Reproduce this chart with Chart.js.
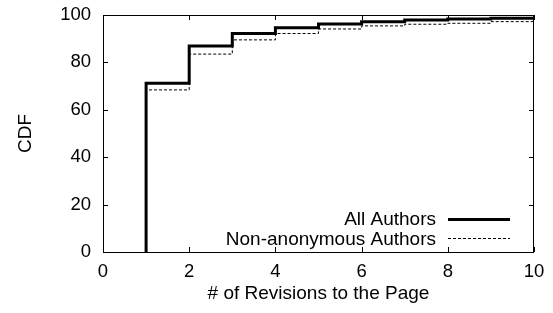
<!DOCTYPE html>
<html><head><meta charset="utf-8">
<script src="https://cdn.jsdelivr.net/npm/chart.js@4/dist/chart.umd.min.js"></script>
<style>html,body{margin:0;padding:0;background:#fff;}#wrap{width:553px;height:313px;}</style>
</head><body><div id="wrap"><canvas id="c" width="553" height="313"></canvas></div>
<script>
// ---- data ----
const revisions = [1, 1, 2, 3, 4, 5, 6, 7, 8, 9, 10];
const allAuthors = [0, 71.2, 86.9, 92.2, 94.6, 96.2, 97.2, 97.9, 98.3, 98.6, 98.6];
const nonAnonymousAuthors = [0, 68.4, 83.5, 89.5, 92.2, 94.1, 95.4, 96.1, 96.5, 97.2, 97.2];
const xTicks = [0, 2, 4, 6, 8, 10];
const yTicks = [0, 20, 40, 60, 80, 100];
const seriesLabels = ['All Authors', 'Non-anonymous Authors'];
const xTitle = '# of Revisions to the Page';
const yTitle = 'CDF';

const FONT = 'Liberation Sans, Arial, Helvetica, sans-serif';

function pts(ys) { return revisions.map((x, i) => ({x: x, y: ys[i]})); }

// gnuplot-like frame with inward mirrored ticks
const framePlugin = {
  id: 'frame',
  afterDatasetsDraw(chart) {
    const {ctx, chartArea: a, scales} = chart;
    ctx.save();
    ctx.strokeStyle = '#000';
    ctx.lineWidth = 1;
    ctx.setLineDash([]);
    ctx.strokeRect(Math.round(a.left) + 0.5, Math.round(a.top) + 0.5,
                   Math.round(a.right - a.left) - 1, Math.round(a.bottom - a.top));
    const L = 5;
    ctx.beginPath();
    xTicks.forEach(v => {
      const px = Math.round(scales.x.getPixelForValue(v)) + 0.5;
      ctx.moveTo(px, a.bottom); ctx.lineTo(px, a.bottom - L);
      ctx.moveTo(px, a.top); ctx.lineTo(px, a.top + L);
    });
    yTicks.forEach(v => {
      const py = Math.round(scales.y.getPixelForValue(v)) + 0.5;
      ctx.moveTo(a.left, py); ctx.lineTo(a.left + L, py);
      ctx.moveTo(a.right, py); ctx.lineTo(a.right - L, py);
    });
    ctx.stroke();
    // legend
    ctx.font = '19px ' + FONT;
    ctx.fillStyle = '#000';
    ctx.textAlign = 'right';
    ctx.textBaseline = 'middle';
    chart.data.datasets.forEach((ds, i) => {
      const y = a.bottom - 33 + i * 19.3;
      ctx.fillText(ds.label, a.right - 98, y + 1);
      ctx.beginPath();
      ctx.lineWidth = ds.borderWidth;
      ctx.setLineDash(ds.borderDash || []);
      ctx.strokeStyle = ds.borderColor;
      const ly = Math.round(y) + (ds.borderWidth % 2 ? 0.5 : 0);
      ctx.moveTo(a.right - 86, ly); ctx.lineTo(a.right - 24, ly);
      ctx.stroke();
    });
    ctx.restore();
  }
};

new Chart(document.getElementById('c'), {
  type: 'line',
  data: {
    datasets: [
      { label: seriesLabels[0], data: pts(allAuthors), stepped: 'before',
        borderColor: '#000', borderWidth: 3, pointRadius: 0, fill: false },
      { label: seriesLabels[1], data: pts(nonAnonymousAuthors), stepped: 'before',
        borderColor: '#000', borderWidth: 1, borderDash: [3, 2], pointRadius: 0, fill: false }
    ]
  },
  options: {
    responsive: false,
    animation: false,
    devicePixelRatio: 1,
    layout: { padding: { left: 0, right: 19, top: 15, bottom: 0 } },
    plugins: { legend: { display: false }, tooltip: { enabled: false } },
    scales: {
      x: {
        type: 'linear', min: 0, max: 10,
        afterBuildTicks: s => { s.ticks = xTicks.map(v => ({value: v})); },
        afterFit: s => { s.height = 61; s.paddingLeft = 0; s.paddingRight = 0; },
        grid: { display: false, drawTicks: false },
        border: { display: false },
        ticks: { color: '#000', font: { family: FONT, size: 18.5 }, padding: 9, maxRotation: 0,
                 callback: v => String(v) },
        title: { display: true, text: xTitle, color: '#000',
                 font: { family: FONT, size: 19 }, padding: { top: 0, bottom: 8 } }
      },
      y: {
        type: 'linear', min: 0, max: 100,
        afterBuildTicks: s => { s.ticks = yTicks.map(v => ({value: v})); },
        afterFit: s => { s.width = 103; s.paddingTop = 0; s.paddingBottom = 0; },
        grid: { display: false, drawTicks: false },
        border: { display: false },
        ticks: { color: '#000', font: { family: FONT, size: 18.5 }, padding: 12,
                 callback: v => String(v) },
        title: { display: true, text: yTitle, color: '#000',
                 font: { family: FONT, size: 19 }, padding: { top: 14, bottom: 0 } }
      }
    }
  },
  plugins: [framePlugin]
});
</script></body></html>
